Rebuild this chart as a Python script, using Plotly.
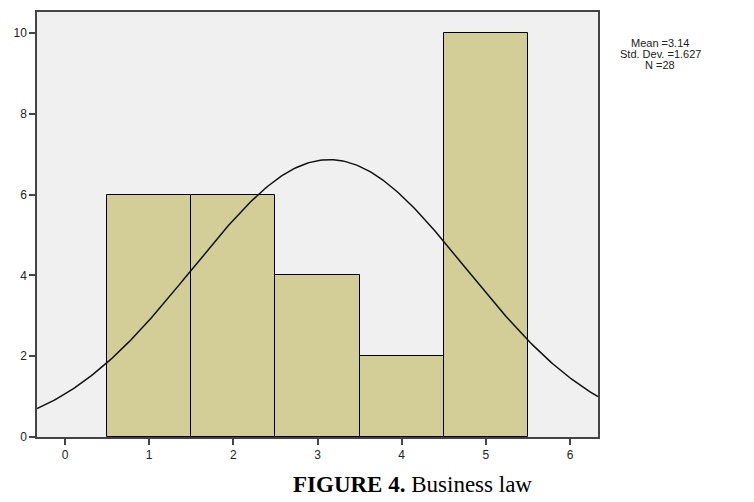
import numpy as np
import plotly.graph_objects as go

# Data
bin_centers = [1, 2, 3, 4, 5]
counts = [6, 6, 4, 2, 10]
mean_val = 3.14
std_val = 1.627
n_val = 28
x_ticks = [0, 1, 2, 3, 4, 5, 6]
y_ticks = [0, 2, 4, 6, 8, 10]
stat_lines = ["Mean =3.14", "Std. Dev. =1.627", "N =28"]

# Normal curve implied by the reported Mean / Std. Dev. / N (bin width 1)
xc = np.linspace(-0.333, 6.333, 300)
yc = n_val * 1.0 / (std_val * np.sqrt(2 * np.pi)) * np.exp(-0.5 * ((xc - mean_val) / std_val) ** 2)

fig = go.Figure()
fig.add_trace(go.Bar(
    x=bin_centers, y=counts, width=1,
    marker=dict(color="#d3ce98", line=dict(color="#000000", width=1)),
    hoverinfo="x+y",
))
fig.add_trace(go.Scatter(
    x=xc, y=yc, mode="lines",
    line=dict(color="#111111", width=1.5),
    hoverinfo="skip",
))

axis_common = dict(
    showline=True, linecolor="#444444", linewidth=1.5, mirror=True,
    ticks="outside", ticklen=6, tickwidth=1.5, tickcolor="#444444",
    showgrid=False, zeroline=False,
    tickfont=dict(family="Liberation Sans, Arial", size=12, color="#222222"),
)

# page body has an 8px margin: figure is 746x494 placed at (8,8)
PW, PH = 561, 427
annotations = []
for i, t in enumerate(stat_lines):
    annotations.append(dict(
        text=t, xref="paper", yref="paper",
        x=(660 - 37) / PW, y=(437 - 41 - 11 * i) / PH,
        xanchor="center", yanchor="middle", showarrow=False,
        font=dict(family="Liberation Sans, Arial", size=11, color="#222222")))
annotations.append(dict(
    text="<b>FIGURE 4.</b> Business law",
    xref="paper", yref="paper", x=(412 - 37) / PW, y=-(485 - 437) / PH,
    xanchor="center", yanchor="middle", showarrow=False,
    font=dict(family="Liberation Serif, Times New Roman", size=23, color="#000000")))

fig.update_layout(
    width=746, height=494,
    margin=dict(l=29, r=746 - 29 - PW, t=2, b=494 - 2 - PH),
    paper_bgcolor="white", plot_bgcolor="#f0f0f0",
    showlegend=False, bargap=0,
    xaxis=dict(range=[-0.333, 6.333], tickvals=x_ticks, **axis_common),
    yaxis=dict(range=[0, 10.52], tickvals=y_ticks, **axis_common),
    annotations=annotations,
)

fig.write_html("out.html")
